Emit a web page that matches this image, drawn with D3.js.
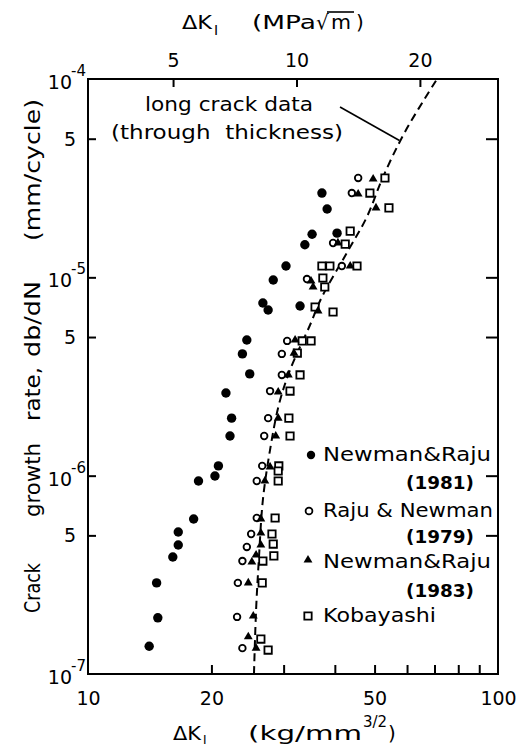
<!DOCTYPE html>
<html>
<head>
<meta charset="utf-8">
<script src="https://cdn.jsdelivr.net/npm/d3@7/dist/d3.min.js"></script>
<style>
  body { margin: 0; background: #fff; }
  text { font-family: "DejaVu Sans", sans-serif; fill: #000; }
</style>
</head>
<body>
<svg id="chart" width="532" height="746"></svg>
<script>
// ΔK_I (kg/mm^3/2) and crack growth rate db/dN (mm/cycle) per stress-intensity solution
const newmanRaju1981 = [
  [37.2, 2.66e-5], [38.3, 2.21e-5], [35.2, 1.65e-5], [33.8, 1.46e-5], [40.5, 1.67e-5],
  [30.4, 1.14e-5], [28.3, 9.7e-6], [26.7, 7.42e-6], [27.5, 6.84e-6], [32.9, 7.17e-6],
  [24.4, 4.83e-6], [23.8, 4.11e-6], [24.8, 3.26e-6], [21.7, 2.61e-6], [22.4, 1.95e-6],
  [22.2, 1.585e-6], [20.8, 1.12e-6], [20.4, 9.96e-7], [18.6, 9.4e-7], [18.1, 6.05e-7],
  [16.6, 5.2e-7], [16.6, 4.47e-7], [16.1, 3.89e-7], [14.7, 2.88e-7], [14.8, 1.92e-7],
  [14.1, 1.38e-7]
];
const rajuNewman1979 = [
  [45.6, 3.17e-5], [44.0, 2.66e-5], [39.6, 1.49e-5], [41.6, 1.14e-5], [34.2, 9.8e-6],
  [30.6, 4.78e-6], [29.7, 4.11e-6], [29.7, 3.22e-6], [27.8, 2.67e-6], [27.5, 1.95e-6],
  [26.9, 1.585e-6], [26.6, 1.12e-6], [25.8, 9.4e-7], [25.8, 6.12e-7], [25.0, 5.08e-7],
  [24.4, 4.37e-7], [23.8, 3.71e-7], [23.2, 2.88e-7], [23.1, 1.94e-7], [23.8, 1.35e-7]
];
const newmanRaju1983 = [
  [49.6, 3.13e-5], [45.6, 2.63e-5], [50.4, 2.24e-5], [40.7, 1.49e-5], [43.6, 1.14e-5],
  [35.0, 9.58e-6], [35.4, 8.94e-6], [36.4, 6.77e-6], [32.0, 4.83e-6], [31.8, 4.15e-6],
  [30.8, 3.22e-6], [29.1, 2.64e-6], [29.1, 1.95e-6], [28.7, 1.585e-6], [27.8, 1.106e-6],
  [27.0, 9.4e-7], [26.4, 6.05e-7], [26.4, 5.14e-7], [26.4, 4.47e-7], [25.7, 3.98e-7],
  [25.1, 3.67e-7], [24.6, 2.88e-7], [25.3, 1.96e-7], [24.6, 1.54e-7], [25.7, 1.35e-7]
];
const kobayashi = [
  [53.0, 3.17e-5], [48.7, 2.66e-5], [54.2, 2.24e-5], [43.6, 1.71e-5], [42.4, 1.47e-5],
  [37.2, 1.14e-5], [38.9, 1.14e-5], [45.3, 1.14e-5], [37.4, 9.92e-6], [37.8, 8.94e-6],
  [35.8, 7.09e-6], [39.6, 6.69e-6], [33.3, 4.78e-6], [35.0, 4.78e-6], [32.4, 4.15e-6],
  [32.9, 3.22e-6], [31.1, 2.67e-6], [30.9, 1.95e-6], [31.1, 1.585e-6], [29.2, 1.12e-6],
  [29.1, 1.056e-6], [29.1, 9.4e-7], [28.6, 6.12e-7], [28.1, 5.08e-7], [28.3, 4.52e-7],
  [28.4, 3.94e-7], [26.7, 3.71e-7], [26.6, 2.88e-7], [26.4, 1.5e-7], [27.5, 1.32e-7]
];
// long crack (through thickness) trend
const longCrackK    = [25.4, 25.7, 26.1, 26.7, 27.8, 29.2, 31.1, 34.8, 37.2, 42.8, 47.9, 52.4, 59.3, 71.0];
const longCrackRate = [1.0e-7, 2.1e-7, 3.76e-7, 7.54e-7, 1.35e-6, 2.27e-6, 3.41e-6, 5.75e-6, 7.96e-6, 1.33e-5, 2.02e-5, 3.2e-5, 5.41e-5, 1.0e-4];

// axes
const kDomain = [10, 100];
const rateDomain = [1e-7, 1e-4];
const bottomTicks = [20, 30, 40, 50, 60, 70, 80, 90];
const bottomLabels = [10, 20, 50, 100];
const topTicksMPa = [5, 10, 20];
const kgToMPa = 0.3101;           // 1 kg/mm^3/2 = 0.3101 MPa√m
const yMinorTicks = [5e-7, 5e-6, 5e-5];
const yDecades = [1e-7, 1e-6, 1e-5, 1e-4];
const yDecadeExp = ["-7", "-6", "-5", "-4"];

const svg = d3.select("#chart");
const x = d3.scaleLog().domain(kDomain).range([88, 498]);
const y = d3.scaleLog().domain(rateDomain).range([674, 79]);

const fr = { l: x(10), r: x(100), t: y(1e-4), b: y(1e-7) };

// ticks (inward)
const gB = svg.append("g").attr("transform", `translate(0,${fr.b})`)
  .call(d3.axisBottom(x).tickValues(bottomTicks).tickSize(-9).tickFormat(""));
const gBl = svg.append("g").attr("transform", `translate(0,${fr.b})`)
  .call(d3.axisBottom(x).tickValues(bottomLabels).tickSize(0).tickPadding(18).tickFormat(d3.format("d")));
const gT = svg.append("g").attr("transform", `translate(0,${fr.t})`)
  .call(d3.axisTop(x).tickValues(topTicksMPa.map(v => v / kgToMPa)).tickSize(-8).tickPadding(12)
    .tickFormat((d, i) => topTicksMPa[i]));
const yTickVals = [5e-7, 1e-6, 5e-6, 1e-5, 5e-5];
const gL = svg.append("g").attr("transform", `translate(${fr.l},0)`)
  .call(d3.axisLeft(y).tickValues(yTickVals).tickSize(-8).tickFormat(""));
const gR = svg.append("g").attr("transform", `translate(${fr.r},0)`)
  .call(d3.axisRight(y).tickValues(yTickVals).tickSize(-12).tickFormat(""));

[gB, gBl, gT, gL, gR].forEach(g => {
  g.select(".domain").remove();
  g.selectAll(".tick line").attr("stroke", "#000").attr("stroke-width", 2);
  g.selectAll("text").attr("fill", "#000").style("font-size", "19px")
    .style("font-family", '"DejaVu Sans", sans-serif');
});

// frame
svg.append("rect")
  .attr("x", fr.l).attr("y", fr.t)
  .attr("width", fr.r - fr.l).attr("height", fr.b - fr.t)
  .attr("fill", "none").attr("stroke", "#000").attr("stroke-width", 2);

// left tick labels
yMinorTicks.forEach(v => {
  svg.append("text").attr("x", 70).attr("y", y(v) + 7)
    .attr("text-anchor", "middle").style("font-size", "19px").text("5");
});
yDecades.forEach((v, i) => {
  const t = svg.append("text").attr("x", 86).attr("y", y(v) + 10)
    .attr("text-anchor", "end").style("font-size", "19px");
  t.append("tspan").text("10");
  t.append("tspan").attr("dx", -1).attr("dy", -13).style("font-size", "15px").text(yDecadeExp[i]);
});

// long crack trend line
const line = d3.line().x(d => x(d[0])).y(d => y(d[1])).curve(d3.curveCatmullRom);
svg.append("path")
  .datum(longCrackK.map((k, i) => [k, longCrackRate[i]]))
  .attr("d", line).attr("fill", "none").attr("stroke", "#000")
  .attr("stroke-width", 2).attr("stroke-dasharray", "8,5");

// markers
const tri = d3.symbol().type(d3.symbolTriangle).size(34);
const sq = d3.symbol().type(d3.symbolSquare).size(54);

svg.append("g").selectAll("circle").data(newmanRaju1981).join("circle")
  .attr("cx", d => x(d[0])).attr("cy", d => y(d[1])).attr("r", 4.7).attr("fill", "#000");
svg.append("g").selectAll("path").data(kobayashi).join("path")
  .attr("transform", d => `translate(${x(d[0])},${y(d[1])})`).attr("d", sq)
  .attr("fill", "#fff").attr("stroke", "#000").attr("stroke-width", 1.8);
svg.append("g").selectAll("circle").data(rajuNewman1979).join("circle")
  .attr("cx", d => x(d[0])).attr("cy", d => y(d[1])).attr("r", 3.3)
  .attr("fill", "#fff").attr("stroke", "#000").attr("stroke-width", 1.8);
svg.append("g").selectAll("path").data(newmanRaju1983).join("path")
  .attr("transform", d => `translate(${x(d[0])},${y(d[1])})`).attr("d", tri).attr("fill", "#000");

// legend
const lg = svg.append("g");
lg.append("circle").attr("cx", 311).attr("cy", 455).attr("r", 4.2).attr("fill", "#000");
lg.append("circle").attr("cx", 309).attr("cy", 511).attr("r", 3.4)
  .attr("fill", "#fff").attr("stroke", "#000").attr("stroke-width", 1.8);
lg.append("path").attr("transform", "translate(308,560)").attr("d", tri).attr("fill", "#000");
lg.append("path").attr("transform", "translate(308,616)").attr("d", sq)
  .attr("fill", "#fff").attr("stroke", "#000").attr("stroke-width", 1.8);

const legendText = [
  ["Newman&Raju", 323, 461, 168, false],
  ["(1981)", 406, 489, 68, true],
  ["Raju & Newman", 323, 517, 170, false],
  ["(1979)", 406, 543, 68, true],
  ["Newman&Raju", 323, 568, 168, false],
  ["(1983)", 406, 597, 68, true],
  ["Kobayashi", 323, 622, 113, false]
];
legendText.forEach(([t, lx, ly, len, bold]) => {
  svg.append("text").attr("x", lx).attr("y", ly)
    .attr("textLength", len).attr("lengthAdjust", "spacingAndGlyphs")
    .style("font-size", bold ? "18px" : "20px").style("font-weight", bold ? "bold" : "normal")
    .text(t);
});

// annotation for the long crack line
svg.append("text").attr("x", 145).attr("y", 111).attr("textLength", 168)
  .attr("lengthAdjust", "spacingAndGlyphs").style("font-size", "19px").text("long crack data");
svg.append("text").attr("x", 111).attr("y", 139).attr("textLength", 232)
  .attr("lengthAdjust", "spacingAndGlyphs").style("font-size", "19px").style("white-space", "pre")
  .text("(through  thickness)");
svg.append("line").attr("x1", 340).attr("y1", 107)
  .attr("x2", x(57.5)).attr("y2", y(4.9e-5))
  .attr("stroke", "#000").attr("stroke-width", 1.6);

// top axis title: ΔK_I (MPa√m)
const tt = svg.append("text").attr("x", 182).attr("y", 29).style("font-size", "20px");
tt.append("tspan").attr("textLength", 30).attr("lengthAdjust", "spacingAndGlyphs").text("ΔK");
tt.append("tspan").attr("dx", 2).attr("dy", 6).style("font-size", "14px").text("I");
tt.append("tspan").attr("x", 252).attr("y", 29).attr("textLength", 64)
  .attr("lengthAdjust", "spacingAndGlyphs").text("(MPa");
tt.append("tspan").attr("x", 316).text("√");
tt.append("tspan").attr("x", 331).attr("textLength", 20).attr("lengthAdjust", "spacingAndGlyphs").text("m");
tt.append("tspan").attr("x", 356).text(")");
svg.append("line").attr("x1", 327).attr("y1", 12).attr("x2", 354).attr("y2", 12)
  .attr("stroke", "#000").attr("stroke-width", 1.6);

// bottom axis title: ΔK_I (kg/mm^3/2)
const bt = svg.append("text").attr("x", 173).attr("y", 740).style("font-size", "20px");
bt.append("tspan").attr("textLength", 28).attr("lengthAdjust", "spacingAndGlyphs").text("ΔK");
bt.append("tspan").attr("dx", 2).attr("dy", 4).style("font-size", "12px").text("I");
bt.append("tspan").attr("x", 248).attr("y", 740).attr("textLength", 114)
  .attr("lengthAdjust", "spacingAndGlyphs").text("(kg/mm");
bt.append("tspan").attr("x", 363).attr("y", 727).style("font-size", "15px").text("3/2");
bt.append("tspan").attr("x", 388).attr("y", 740).text(")");

// vertical axis title
const yWords = [
  ["Crack", 613, 50], ["growth", 517, 74], ["rate,", 421, 54], ["db/dN", 357, 76], ["(mm/cycle)", 241, 142]
];
yWords.forEach(([w, pos, len]) => {
  svg.append("text").attr("transform", `translate(40,${pos}) rotate(-90)`)
    .attr("textLength", len).attr("lengthAdjust", "spacingAndGlyphs")
    .style("font-size", "21px").text(w);
});
</script>
</body>
</html>
